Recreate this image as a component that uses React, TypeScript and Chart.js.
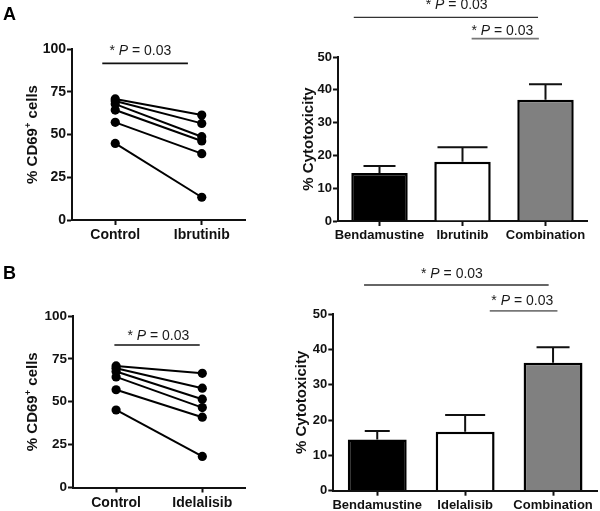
import React, { useEffect, useRef } from 'react';
import { Chart, registerables } from 'chart.js';

Chart.register(...registerables);

const FONT = '"Liberation Sans", Arial, Helvetica, sans-serif';

// ---------- Data ----------
const pairCategoriesA = ['Control', 'Ibrutinib'];
const controlA = [70.8, 69.6, 67.8, 64.3, 57.1, 44.8];
const ibrutinibA = [61.4, 56.5, 48.7, 46.2, 38.8, 13.3];

const pairCategoriesB = ['Control', 'Idelalisib'];
const controlB = [70.9, 69.5, 67.6, 64.5, 57.0, 45.2];
const idelalisibB = [66.6, 57.9, 51.5, 46.6, 41.0, 18.1];

const barCategoriesA = ['Bendamustine', 'Ibrutinib', 'Combination'];
const cytotoxA = [14.6, 18.1, 37.0];
const errA = [2.2, 4.4, 4.7];

const barCategoriesB = ['Bendamustine', 'Idelalisib', 'Combination'];
const cytotoxB = [14.5, 16.7, 36.2];
const errB = [2.4, 4.7, 4.4];

const pairTicks = [0, 25, 50, 75, 100];
const barTicks = [0, 10, 20, 30, 40, 50];

const pLabel = ['* ', 'P', ' = 0.03'];

// ---------- Styles ----------
const barColors = ['#000000', '#ffffff', '#808080'];
const INK = '#111111';

type Sig = { x1: number; x2: number; y: number; tx: number; ty: number; color: string; width: number };
type TitlePart = { t: string; sup?: boolean };

function drawPText(ctx: CanvasRenderingContext2D, cx: number, baseline: number, size: number) {
  const fonts = [`${size}px ${FONT}`, `italic ${size}px ${FONT}`, `${size}px ${FONT}`];
  let total = 0;
  const widths: number[] = [];
  pLabel.forEach((t, i) => {
    ctx.font = fonts[i];
    const w = ctx.measureText(t).width;
    widths.push(w);
    total += w;
  });
  let x = cx - total / 2;
  ctx.fillStyle = '#1a1a1a';
  ctx.textAlign = 'left';
  ctx.textBaseline = 'alphabetic';
  pLabel.forEach((t, i) => {
    ctx.font = fonts[i];
    ctx.fillText(t, x, baseline);
    x += widths[i];
  });
}

function makePlugin(o: {
  title: TitlePart[];
  titleX: number;
  titleSize: number;
  sigs: Sig[];
  pSize: number;
  errors?: number[];
  values?: number[];
  caps?: number[];
}) {
  return {
    id: 'customDecor',
    afterDatasetsDraw(chart: any) {
      if (!o.errors || !o.values) return;
      const ctx = chart.ctx as CanvasRenderingContext2D;
      const y = chart.scales.y;
      const meta = chart.getDatasetMeta(0);
      ctx.save();
      ctx.strokeStyle = INK;
      ctx.lineWidth = 2;
      meta.data.forEach((bar: any, i: number) => {
        const x = bar.x;
        const y0 = y.getPixelForValue(o.values![i]);
        const y1 = y.getPixelForValue(o.values![i] + o.errors![i]);
        const cw = o.caps ? o.caps[i] : 30;
        ctx.beginPath();
        ctx.moveTo(x, y0);
        ctx.lineTo(x, y1);
        ctx.moveTo(x - cw / 2, y1);
        ctx.lineTo(x + cw / 2, y1);
        ctx.stroke();
      });
      ctx.restore();
    },
    afterDraw(chart: any) {
      const ctx = chart.ctx as CanvasRenderingContext2D;
      const area = chart.chartArea;
      const xs = chart.scales.x;
      const ys = chart.scales.y;
      ctx.save();
      // y title
      const size = o.titleSize;
      const supSize = size * 0.62;
      const parts = o.title.map((p) => ({
        ...p,
        font: p.sup ? `bold ${supSize}px ${FONT}` : `bold ${size}px ${FONT}`,
      }));
      let total = 0;
      const ws: number[] = [];
      parts.forEach((p) => {
        ctx.font = p.font;
        const w = ctx.measureText(p.t).width;
        ws.push(w);
        total += w;
      });
      ctx.translate(o.titleX, (area.top + area.bottom) / 2);
      ctx.rotate(-Math.PI / 2);
      ctx.fillStyle = INK;
      ctx.textAlign = 'left';
      ctx.textBaseline = 'alphabetic';
      let x = -total / 2;
      const base = size * 0.36;
      parts.forEach((p, i) => {
        ctx.font = p.font;
        ctx.fillText(p.t, x, p.sup ? base - size * 0.4 : base);
        x += ws[i];
      });
      ctx.restore();

      // significance bars
      ctx.save();
      o.sigs.forEach((s) => {
        const px1 = xs.getPixelForValue(s.x1);
        const px2 = xs.getPixelForValue(s.x2);
        const py = ys.getPixelForValue(s.y);
        ctx.strokeStyle = s.color;
        ctx.lineWidth = s.width;
        ctx.beginPath();
        ctx.moveTo(px1, py);
        ctx.lineTo(px2, py);
        ctx.stroke();
        drawPText(ctx, xs.getPixelForValue(s.tx), ys.getPixelForValue(s.ty), o.pSize);
      });
      ctx.restore();
    },
  };
}

function yScale(max: number, ticks: number[], fontSize: number, width: number) {
  return {
    type: 'linear',
    min: 0,
    max,
    afterBuildTicks: (s: any) => {
      s.ticks = ticks.map((v) => ({ value: v }));
    },
    ticks: {
      color: INK,
      padding: 1,
      font: { family: FONT, size: fontSize, weight: 'bold' },
    },
    grid: {
      drawOnChartArea: false,
      drawTicks: true,
      tickLength: 5,
      tickWidth: 2,
      tickColor: INK,
    },
    border: { display: true, color: INK, width: 2 },
    afterFit: (s: any) => {
      s.width = width;
    },
  };
}

function xScale(fontSize: number, height: number) {
  return {
    type: 'category',
    offset: true,
    ticks: {
      color: INK,
      padding: 2,
      maxRotation: 0,
      minRotation: 0,
      autoSkip: false,
      font: { family: FONT, size: fontSize, weight: 'bold' },
    },
    grid: {
      offset: false,
      drawOnChartArea: false,
      drawTicks: true,
      tickLength: 5,
      tickWidth: 2,
      tickColor: INK,
    },
    border: { display: true, color: INK, width: 2 },
    afterFit: (s: any) => {
      s.height = height;
    },
  };
}

type PanelProps = {
  left: number;
  top: number;
  width: number;
  height: number;
  build: () => any;
};

function Panel({ left, top, width, height, build }: PanelProps) {
  const ref = useRef<HTMLCanvasElement | null>(null);
  useEffect(() => {
    if (!ref.current) return;
    const chart = new Chart(ref.current, build());
    return () => chart.destroy();
  }, []);
  return (
    <canvas
      ref={ref}
      width={width}
      height={height}
      style={{ position: 'absolute', left, top, width, height }}
    />
  );
}

function pairConfig(cats: string[], ctrl: number[], trt: number[], opts: any) {
  return {
    type: 'line',
    data: {
      labels: cats,
      datasets: ctrl.map((c, i) => ({
        data: [c, trt[i]],
        borderColor: '#000',
        backgroundColor: '#000',
        borderWidth: 2,
        pointRadius: 4.6,
        pointBorderWidth: 0,
        pointHoverRadius: 4.6,
        tension: 0,
      })),
    },
    options: {
      responsive: false,
      animation: false,
      devicePixelRatio: 1,
      events: [],
      layout: { padding: opts.padding },
      plugins: { legend: { display: false }, tooltip: { enabled: false } },
      scales: {
        x: xScale(opts.xFont, opts.xHeight),
        y: yScale(100, pairTicks, opts.yFont, opts.yWidth),
      },
    },
    plugins: [
      makePlugin({
        title: [{ t: '% CD69' }, { t: '+', sup: true }, { t: ' cells' }],
        titleX: opts.titleX,
        titleSize: 15,
        sigs: opts.sigs,
        pSize: 14,
      }),
    ],
  };
}

function barConfig(cats: string[], vals: number[], errs: number[], opts: any) {
  return {
    type: 'bar',
    data: {
      labels: cats,
      datasets: [
        {
          data: vals,
          backgroundColor: barColors,
          borderColor: '#000',
          borderWidth: 2.5,
          categoryPercentage: 1,
          barPercentage: opts.barPct,
        },
      ],
    },
    options: {
      responsive: false,
      animation: false,
      devicePixelRatio: 1,
      events: [],
      layout: { padding: opts.padding },
      plugins: { legend: { display: false }, tooltip: { enabled: false } },
      scales: {
        x: xScale(13, opts.xHeight),
        y: yScale(50, barTicks, 13, opts.yWidth),
      },
    },
    plugins: [
      makePlugin({
        title: [{ t: '% Cytotoxicity' }],
        titleX: opts.titleX,
        titleSize: 15,
        sigs: opts.sigs,
        pSize: 14,
        errors: errs,
        values: vals,
        caps: opts.caps,
      }),
    ],
  };
}

export default function App() {
  const letter: React.CSSProperties = {
    position: 'absolute',
    left: 3,
    fontFamily: FONT,
    fontWeight: 'bold',
    fontSize: 18,
    lineHeight: '18px',
    color: '#000',
  };
  return (
    <div
      style={{
        position: 'absolute',
        left: 0,
        top: 0,
        width: 600,
        height: 511,
        background: '#fff',
        overflow: 'hidden',
      }}
    >
      <Panel
        left={0}
        top={0}
        width={250}
        height={255}
        build={() =>
          pairConfig(pairCategoriesA, controlA, ibrutinibA, {
            padding: { top: 49, right: 5, left: 0, bottom: 0 },
            xHeight: 35,
            yWidth: 72,
            xFont: 14,
            yFont: 14,
            titleX: 32,
            sigs: [{ x1: -0.15, x2: 0.84, y: 91.6, tx: 0.29, ty: 96.6, color: '#111', width: 1.6 }],
          })
        }
      />
      <Panel
        left={250}
        top={0}
        width={350}
        height={255}
        build={() =>
          barConfig(barCategoriesA, cytotoxA, errA, {
            padding: { top: 57, right: 13, left: 0, bottom: 0 },
            xHeight: 34,
            yWidth: 88,
            barPct: 0.68,
            titleX: 57.5,
            caps: [32, 50, 33],
            sigs: [
              { x1: -0.31, x2: 1.91, y: 62.1, tx: 0.93, ty: 64.6, color: '#333', width: 1.3 },
              { x1: 1.11, x2: 1.92, y: 55.6, tx: 1.48, ty: 56.7, color: '#777', width: 1.8 },
            ],
          })
        }
      />
      <Panel
        left={0}
        top={255}
        width={250}
        height={256}
        build={() =>
          pairConfig(pairCategoriesB, controlB, idelalisibB, {
            padding: { top: 61, right: 4, left: 0, bottom: 0 },
            xHeight: 23.5,
            yWidth: 73,
            xFont: 14,
            yFont: 13.5,
            titleX: 32,
            sigs: [{ x1: -0.02, x2: 0.97, y: 83.1, tx: 0.49, ty: 86.2, color: '#111', width: 1.6 }],
          })
        }
      />
      <Panel
        left={250}
        top={255}
        width={350}
        height={256}
        build={() =>
          barConfig(barCategoriesB, cytotoxB, errB, {
            padding: { top: 59, right: 3, left: 0, bottom: 0 },
            xHeight: 20.3,
            yWidth: 83.3,
            barPct: 0.67,
            titleX: 51,
            caps: [25, 40, 33],
            sigs: [
              { x1: -0.15, x2: 1.95, y: 58.2, tx: 0.85, ty: 60.2, color: '#333', width: 1.3 },
              { x1: 1.28, x2: 2.05, y: 50.9, tx: 1.65, ty: 52.6, color: '#777', width: 1.8 },
            ],
          })
        }
      />
      <div style={{ ...letter, top: 5 }}>A</div>
      <div style={{ ...letter, top: 264 }}>B</div>
    </div>
  );
}
